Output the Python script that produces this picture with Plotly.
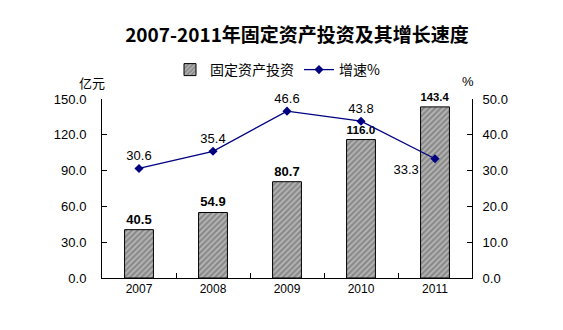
import plotly.graph_objects as go

years = ["2007", "2008", "2009", "2010", "2011"]
investment = [40.5, 54.9, 80.7, 116.0, 143.4]
growth = [30.6, 35.4, 46.6, 43.8, 33.3]
growth_pos = ["top center", "top center", "top center", "top center", "bottom left"]

NUM = "Liberation Sans, Arial, sans-serif"
CJK = "Noto Sans CJK SC, sans-serif"

fig = go.Figure()
fig.add_trace(go.Bar(
    x=years, y=investment, name="固定资产投资",
    width=0.39,
    marker=dict(color="white", line=dict(color="black", width=1),
                pattern=dict(shape="/", fgcolor="#e8e8e8", bgcolor="#8a8a8a",
                             size=4, solidity=0.4)),
    text=[f"{v:.1f}" for v in investment], textposition="outside",
    textfont=dict(family=NUM, size=13, color="black", weight="bold"),
    cliponaxis=False,
))
labels = [f"{v:.1f}" for v in growth]
labels[-1] = labels[-1] + "\u00a0\u00a0\u00a0"
fig.add_trace(go.Scatter(
    x=years, y=growth, name="增速%", yaxis="y2",
    mode="lines+markers+text",
    line=dict(color="#000080", width=1.3),
    marker=dict(symbol="diamond", size=7, color="#000080"),
    text=labels, textposition=growth_pos,
    textfont=dict(family=NUM, size=13, color="black"),
    cliponaxis=False,
))

fig.update_layout(
    width=563, height=330,
    margin=dict(l=102, r=91, t=99, b=52),
    paper_bgcolor="white", plot_bgcolor="white",
    title=dict(text="<b>2007-2011年固定资产投资及其增长速度</b>",
               font=dict(family=CJK, size=19, color="black"),
               x=297/563, xanchor="center", y=1-35/330, yanchor="middle"),
    showlegend=True,
    legend=dict(orientation="h", x=(170-102)/370, xanchor="left",
                y=(278-70)/179, yanchor="middle",
                font=dict(family=CJK, size=14, color="black"),
                bgcolor="rgba(0,0,0,0)"),
    bargap=0.6,
    xaxis=dict(type="category", showline=True, linecolor="black", linewidth=1,
               ticks="inside", tickson="boundaries", ticklen=5, tickcolor="black",
               tickfont=dict(family=NUM, size=12, color="black"),
               showgrid=False, zeroline=False),
    yaxis=dict(range=[0, 150], dtick=30, tickformat=".1f", showline=True,
               linecolor="black", linewidth=1, ticks="inside", ticklen=5,
               tickcolor="black", showgrid=False, zeroline=False,
               ticklabelstandoff=12,
               tickfont=dict(family=NUM, size=13, color="black")),
    yaxis2=dict(range=[0, 50], dtick=10, tickformat=".1f", overlaying="y",
                side="right", showline=True, linecolor="black", linewidth=1,
                ticks="inside", ticklen=5, tickcolor="black", showgrid=False,
                zeroline=False, ticklabelstandoff=7,
                tickfont=dict(family=NUM, size=13, color="black")),
    annotations=[
        dict(text="亿元", xref="paper", yref="paper", x=(92-102)/370, y=(278-82)/179,
             xanchor="center", yanchor="middle", showarrow=False,
             font=dict(family=CJK, size=13, color="black")),
        dict(text="%", xref="paper", yref="paper", x=(468-102)/370, y=(278-81)/179,
             xanchor="center", yanchor="middle", showarrow=False,
             font=dict(family=NUM, size=13, color="black")),
    ],
)

fig.write_html("out.html")
